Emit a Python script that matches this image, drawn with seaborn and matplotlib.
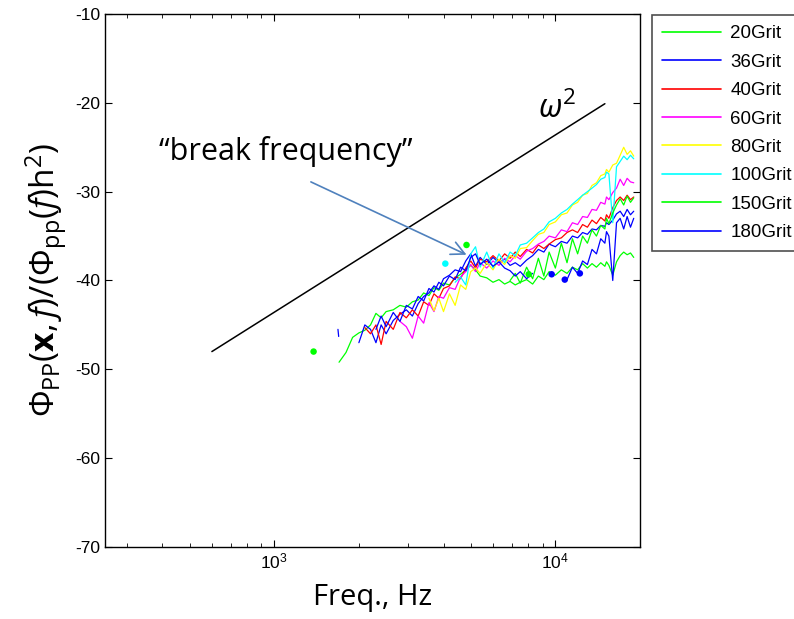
import numpy as np
import pandas as pd
import matplotlib
matplotlib.use("Agg")
import matplotlib.pyplot as plt
import seaborn as sns
from matplotlib.lines import Line2D

nan = np.nan

# ---------------- data ----------------
freq_hz = [1400, 1500, 1600, 1700, 1800, 1900, 2000, 2100, 2200, 2300,
           2400, 2500, 2650, 2800, 2950, 3100, 3250, 3400, 3550, 3700,
           3850, 4000, 4200, 4400, 4600, 4800, 5000, 5200, 5400, 5700,
           6000, 6300, 6600, 6900, 7200, 7500, 7900, 8300, 8700, 9100,
           9500, 10000, 10500, 11000, 11500, 12000, 12500, 13000, 13500, 14000,
           14500, 15000, 15200, 15500, 16000, 16500, 17000, 17500, 18000, 18500,
           19000]

grit_20 = [nan, nan, nan, -49.2, -48.1, -46.4, -45.9, -45.6, -45.0, -43.7,
           -44.2, -43.5, -43.3, -42.8, -43.0, -42.4, -42.2, -41.4, -41.7, -40.8,
           -41.1, -40.3, -40.5, -39.7, -39.3, -38.8, -38.3, -38.8, -39.5, -39.7,
           -40.2, -39.9, -40.4, -40.1, -40.5, -40.2, -39.9, -40.4, -39.5, -39.9,
           -39.0, -39.4, -38.8, -39.2, -38.5, -38.8, -38.1, -38.6, -38.1, -38.5,
           -38.0, -38.4, -37.9, -38.3, -39.4, -37.9, -37.2, -36.8, -37.1, -36.9,
           -37.4]
grit_36 = [nan, nan, nan, nan, nan, nan, -47.0, -45.0, -45.5, -47.0,
           -45.0, -46.0, -44.5, -43.8, -43.3, -44.0, -42.6, -41.8, -41.4, -40.6,
           -41.0, -39.8, -39.4, -38.8, -39.0, -37.8, -37.0, -38.4, -37.4, -38.2,
           -37.4, -38.0, -37.6, -38.3, -38.0, -38.4, -37.7, -37.2, -36.5, -36.8,
           -35.9, -36.2, -35.6, -35.8, -35.0, -35.2, -34.6, -34.8, -34.2, -34.3,
           -33.8, -33.9, -33.5, -33.7, -33.2, -32.5, -32.2, -32.8, -32.0, -32.6,
           -32.2]
grit_40 = [nan, nan, nan, nan, nan, nan, nan, -45.3, -46.0, -45.0,
           -47.2, -44.6, -45.5, -43.6, -44.2, -43.3, -44.0, -42.4, -42.8, -41.5,
           -42.0, -40.9, -40.6, -39.6, -39.8, -38.6, -37.8, -38.6, -37.6, -37.9,
           -37.2, -37.8, -37.0, -37.5, -36.8, -37.3, -36.5, -36.9, -36.0, -36.4,
           -35.9, -35.4, -35.2, -34.6, -34.3, -34.6, -33.7, -34.0, -33.2, -33.6,
           -32.9, -33.3, -32.6, -33.0, -31.8, -31.0, -30.6, -31.0, -30.4, -30.9,
           -30.6]
grit_60 = [nan, nan, nan, nan, nan, nan, nan, nan, nan, nan,
           nan, nan, nan, -44.6, -45.2, -46.5, -44.0, -44.8, -42.5, -43.5,
           -41.8, -42.0, -40.8, -41.0, -39.6, -39.0, -38.2, -39.0, -38.0, -38.6,
           -37.8, -38.3, -37.5, -37.9, -37.2, -37.6, -36.7, -36.4, -35.9, -35.6,
           -35.0, -35.2, -34.3, -34.5, -33.5, -33.7, -32.8, -32.9, -32.0, -32.1,
           -31.2, -31.4, -30.6, -30.9, -30.1, -29.6, -28.6, -29.3, -28.5, -28.9,
           -29.0]
grit_80 = [nan, nan, nan, nan, nan, nan, nan, nan, nan, nan,
           nan, nan, nan, nan, nan, nan, nan, nan, -42.0, -43.4,
           -42.0, -43.5, -41.5, -42.8, -40.5, -41.0, -39.0, -38.6, -39.2, -38.0,
           -38.8, -37.6, -38.2, -37.2, -37.5, -36.4, -36.3, -35.5, -34.8, -34.6,
           -33.7, -33.4, -32.6, -32.4, -31.5, -31.2, -30.4, -30.2, -29.3, -29.0,
           -28.2, -28.0, -27.5, -27.8, -27.0, -26.8, -25.9, -25.0, -25.8, -25.4,
           -26.0]
grit_100 = [nan, nan, nan, nan, nan, nan, nan, nan, nan, nan,
            nan, nan, nan, nan, nan, nan, nan, nan, nan, nan,
            nan, nan, nan, -40.2, -39.6, -40.5, -37.0, -36.2, -38.5, -36.8,
            -38.6, -37.0, -38.0, -36.8, -37.2, -36.0, -35.8, -35.2, -34.6, -34.2,
            -33.4, -33.0, -32.4, -32.0, -31.4, -30.9, -30.4, -30.0, -29.6, -29.2,
            -28.6, -28.4, -27.8, -28.0, -33.5, -27.2, -26.6, -26.0, -26.4, -25.9,
            -26.3]
grit_150 = [nan, nan, nan, nan, nan, nan, nan, nan, nan, nan,
            nan, nan, nan, nan, nan, nan, nan, nan, nan, nan,
            nan, nan, nan, nan, nan, nan, nan, nan, nan, nan,
            nan, nan, nan, -40.0, -39.2, -40.3, -38.5, -39.8, -37.5, -39.5,
            -36.8, -38.6, -35.8, -38.0, -35.3, -37.0, -35.0, -35.8, -34.3, -35.0,
            -33.8, -34.2, -33.0, -33.6, -32.4, -31.5, -30.8, -31.5, -30.5, -31.2,
            -30.7]
grit_180 = [nan, nan, nan, nan, nan, nan, nan, nan, nan, -45.5,
            -44.0, -45.2, -43.6, -44.6, -42.8, -43.2, -41.8, -42.3, -40.9, -41.3,
            -40.2, -40.6, -39.5, -39.9, -38.5, -38.9, -37.4, -37.0, -38.2, -37.6,
            -38.4, -37.9, -38.6, -38.9, -39.5, -39.0, -39.8, -39.2, nan, nan,
            nan, nan, nan, -39.9, -38.5, -39.2, -37.8, -38.2, -36.5, -37.0,
            -35.3, -35.8, -34.5, -35.0, -40.0, -33.5, -33.0, -34.2, -32.8, -34.0,
            -33.0]

# short isolated piece of the 180Grit curve
piece_180_freq = [1685, 1695]
piece_180_db = [-45.5, -46.3]

# isolated single samples (shown as dots)
dot_grit = ["20Grit", "100Grit", "150Grit", "20Grit", "180Grit", "180Grit", "180Grit"]
dot_freq = [1380, 4060, 4830, 8040, 9700, 10800, 12220]
dot_db = [-48.0, -38.1, -36.0, -39.3, -39.3, -39.9, -39.2]

grit_names = ["20Grit", "36Grit", "40Grit", "60Grit", "80Grit", "100Grit", "150Grit", "180Grit"]
grit_values = [grit_20, grit_36, grit_40, grit_60, grit_80, grit_100, grit_150, grit_180]
grit_colors = ["#00ff00", "#0000ff", "#ff0000", "#ff00ff", "#ffff00", "#00ffff", "#00ff00", "#0000ff"]

# omega^2 reference slope
omega_freq = [600, 15000]
omega_db = [-48.0, -20.1]

# ---------------- build table ----------------
rows = []
for name, vals in zip(grit_names, grit_values):
    seg = 0
    prev = False
    for f, v in zip(freq_hz, vals):
        if np.isnan(v):
            if prev:
                seg += 1
            prev = False
            continue
        rows.append((name, f"{name}-{seg}", f, v))
        prev = True
for f, v in zip(piece_180_freq, piece_180_db):
    rows.append(("180Grit", "180Grit-piece", f, v))
df = pd.DataFrame(rows, columns=["grit", "unit", "freq", "db"])
dots = pd.DataFrame({"grit": dot_grit, "freq": dot_freq, "db": dot_db})
omega = pd.DataFrame({"freq": omega_freq, "db": omega_db})
palette = dict(zip(grit_names, grit_colors))

# ---------------- plot ----------------
sns.set_theme(style="ticks")
plt.rcParams["font.family"] = ["Liberation Sans", "DejaVu Sans"]
plt.rcParams["axes.unicode_minus"] = False
plt.rcParams["text.color"] = "black"
plt.rcParams["axes.labelcolor"] = "black"
plt.rcParams["mathtext.fontset"] = "custom"
plt.rcParams["mathtext.rm"] = "Open Sans"
plt.rcParams["mathtext.it"] = "Open Sans:italic"
plt.rcParams["mathtext.bf"] = "Open Sans:bold"

fig = plt.figure(figsize=(7.94, 6.19), dpi=100)
ax = fig.add_axes([105 / 794, 1 - 547 / 619, 535 / 794, 533 / 619])
ax.set_xscale("log")

sns.lineplot(data=omega, x="freq", y="db", color="black", lw=1.1, ax=ax,
             estimator=None, sort=False)
sns.lineplot(data=df, x="freq", y="db", hue="grit", units="unit",
             hue_order=grit_names, palette=palette, estimator=None, sort=False,
             lw=0.9, legend=False, ax=ax)
sns.scatterplot(data=dots, x="freq", y="db", hue="grit", palette=palette,
                s=22, linewidth=0, legend=False, ax=ax, zorder=3)

ax.set_xlim(250, 20000)
ax.set_ylim(-70, -10)
ax.set_yticks(range(-70, -9, 10))
ax.tick_params(axis="both", which="both", direction="in", top=True, right=True,
               labelsize=12.5, colors="black")
ax.tick_params(which="major", length=5, width=0.8)
ax.tick_params(which="minor", length=3, width=0.6)
for s in ax.spines.values():
    s.set_color("black")
    s.set_linewidth(1.0)

ax.set_xlabel("Freq., Hz", fontsize=21, family="Open Sans", labelpad=8, color="black")
ax.set_ylabel(r"$\Phi_{\mathrm{PP}}(\mathbf{x},f)/(\Phi_{\mathrm{pp}}(f)\mathrm{h}^2)$",
              fontsize=24, labelpad=4, color="black")

ax.text(1098, -25.5, "\u201cbreak frequency\u201d", fontsize=22, family="Open Sans",
        ha="center", va="center", color="black")
ax.text(8700, -21.7, r"$\omega^2$", fontsize=23, ha="left", va="baseline", color="black")
ax.annotate("", xy=(4830, -37.1), xytext=(1350, -28.9),
            arrowprops=dict(arrowstyle="->,head_length=0.6,head_width=0.3",
                            color="#4f81bd", lw=1.2, shrinkA=0, shrinkB=0,
                            mutation_scale=16))

handles = [Line2D([0], [0], color=c, lw=1.2) for c in grit_colors]
leg = fig.legend(handles, grit_names, loc="upper left",
                 bbox_to_anchor=(652 / 794, 1 - 15 / 619), borderaxespad=0,
                 fontsize=13.5, frameon=True, fancybox=False, handlelength=3.15,
                 handletextpad=0.48, labelspacing=0.6, borderpad=0.55)
leg.get_frame().set_edgecolor("#222222")
leg.get_frame().set_linewidth(1.2)
for t in leg.get_texts():
    t.set_color("black")

fig.savefig("out.png", dpi=100)
